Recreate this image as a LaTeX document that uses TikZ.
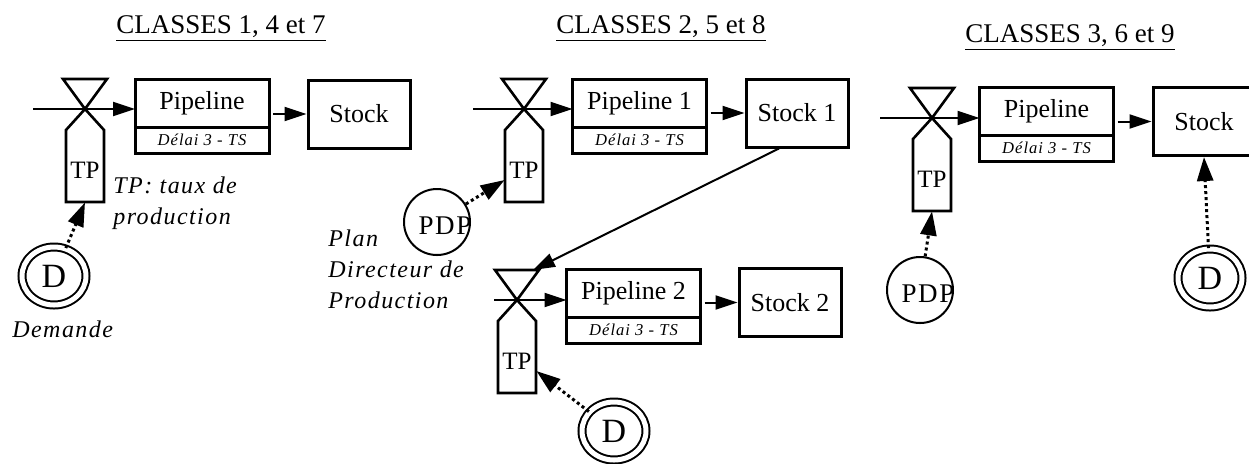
\documentclass[tikz,border=0pt]{standalone}
\usepackage{fontspec}
\setmainfont{Liberation Serif}
\newfontfamily\espace[LetterSpace=6]{Liberation Serif}
\usetikzlibrary{arrows.meta,shapes.geometric,positioning}

% vanne + reservoir TP : nom, x, y du croisement
\newcommand{\vanne}[3]{%
  \draw[vanne] (#2-19,#3+93) -- (#2-19,#3+21) -- (#2,#3) -- (#2+22,#3-30) -- (#2-22,#3-30) -- (#2,#3) -- (#2+19,#3+21) -- (#2+19,#3+93) -- cycle;
  \node[tp] (#1) at (#2,#3+57) {TP};
}

\begin{document}
\begin{tikzpicture}[x=0.5pt,y=-0.5pt]

\tikzstyle{pipeline} = [rectangle, draw=black, line width=1.5pt, outer sep=0pt, minimum width=67pt, minimum height=24pt, inner sep=0pt, font=\fontsize{13}{15}\selectfont]
\tikzstyle{delai} = [rectangle, draw=black, line width=1.5pt, outer sep=0pt, minimum width=67pt, minimum height=13pt, inner sep=0pt, font=\espace\itshape\fontsize{8.3}{9}\selectfont]
\tikzstyle{stock} = [rectangle, draw=black, line width=1.5pt, minimum width=51pt, minimum height=34pt, font=\fontsize{13}{15}\selectfont]
\tikzstyle{tp} = [rectangle, minimum width=19pt, minimum height=36pt, inner sep=0pt, text height=12.5pt, text depth=0pt, font=\fontsize{12.5}{14}\selectfont]
\tikzstyle{vanne} = [line width=1.3pt]
\tikzstyle{demande} = [ellipse, draw=black, double, line width=1pt, double distance=2.5pt, minimum width=32pt, minimum height=29pt, inner sep=0pt, font=\fontsize{17}{19}\selectfont]
\tikzstyle{pdp} = [circle, draw=black, line width=1pt, minimum size=33pt, inner sep=0pt]
\tikzstyle{titre} = [anchor=base west, inner sep=0pt, font=\fontsize{13.5}{16}\selectfont]
\tikzstyle{legende} = [inner sep=0pt, align=left, font=\espace\itshape\fontsize{12}{15.5}\selectfont]

\tikzstyle{arrow} = [line width=1pt, -{Triangle[length=11pt,width=7pt]}]
\tikzstyle{pointille} = [line width=1.5pt, dash pattern=on 1.5pt off 1.5pt, -{Triangle[length=12pt,width=8pt]}]

\useasboundingbox (0,0) rectangle (1249,463);

\node[titre] (titre1) at (116,33) {\underline{CLASSES 1, 4 et 7}};
\node[titre] (titre2) at (556,33) {\underline{CLASSES 2, 5 et 8}};
\node[titre] (titre3) at (965,42) {\underline{CLASSES 3, 6 et 9}};

% classes 1, 4 et 7
\vanne{tp1}{85}{109}
\coordinate (in1) at (33,109);
\node[pipeline] (pip1) at (202,103) {Pipeline};
\node[delai, below=0pt of pip1] (del1) {Délai 3 - TS};
\node[stock] (stk1) at (359,114) {Stock};
\node[demande] (d1) at (54,276) {D};
\node[legende, anchor=north west] (leg1) at (113,176) {TP: taux de\\production};
\node[legende, anchor=base west] (dem1) at (12,337) {Demande};

\draw[arrow] (in1) -- (in1 -| pip1.west);
\draw[arrow, shorten <=2pt] (stk1.west -| pip1.east) -- (stk1.west);
\draw[pointille] (d1) -- (tp1.south);

% classes 2, 5 et 8
\vanne{tp2a}{524}{109}
\coordinate (in2a) at (473,109);
\node[pipeline] (pip2a) at (639.5,103) {Pipeline 1};
\node[delai, below=0pt of pip2a] (del2a) {Délai 3 - TS};
\node[stock] (stk2a) at (797,113) {Stock 1};
\node[pdp, label={[font=\espace\fontsize{13.5}{15}\selectfont, xshift=4pt, yshift=-2pt]center:PDP}] (pdp2) at (437,222) {};
\node[legende, anchor=north west] (leg2) at (328,229) {Plan\\Directeur de\\Production};

\vanne{tp2b}{517}{300}
\coordinate (in2b) at (494,300);
\coordinate (haut2b) at (533,270);
\node[pipeline] (pip2b) at (633.5,293) {Pipeline 2};
\node[delai, below=0pt of pip2b] (del2b) {Délai 3 - TS};
\node[stock] (stk2b) at (790,302.5) {Stock 2};
\node[demande] (d2) at (614,431) {D};

\draw[arrow] (in2a) -- (in2a -| pip2a.west);
\draw[arrow, shorten <=2pt] (stk2a.west -| pip2a.east) -- (stk2a.west);
\draw[pointille] (pdp2) -- ([yshift=-7pt]tp2a.west);
\draw[arrow] ([xshift=-9pt]stk2a.south) -- (haut2b);
\draw[arrow] (in2b) -- (in2b -| pip2b.west);
\draw[arrow, shorten <=2pt] (stk2b.west -| pip2b.east) -- (stk2b.west);
\draw[pointille] (d2) -- ([yshift=-7pt]tp2b.east);

% classes 3, 6 et 9
\vanne{tp3}{932}{118}
\coordinate (in3) at (880,118);
\node[pipeline] (pip3) at (1046.5,111) {Pipeline};
\node[delai, below=0pt of pip3] (del3) {Délai 3 - TS};
\node[stock] (stk3) at (1204,121.5) {Stock};
\node[pdp, label={[font=\espace\fontsize{13.5}{15}\selectfont, xshift=4pt, yshift=-2pt]center:PDP}] (pdp3) at (920,290) {};
\node[demande] (d3) at (1210,278) {D};

\draw[arrow] (in3) -- (in3 -| pip3.west);
\draw[arrow, shorten <=2pt] (stk3.west -| pip3.east) -- (stk3.west);
\draw[pointille] (pdp3) -- (tp3.south);
\draw[pointille] (d3) -- (stk3.south);

\end{tikzpicture}
\end{document}
